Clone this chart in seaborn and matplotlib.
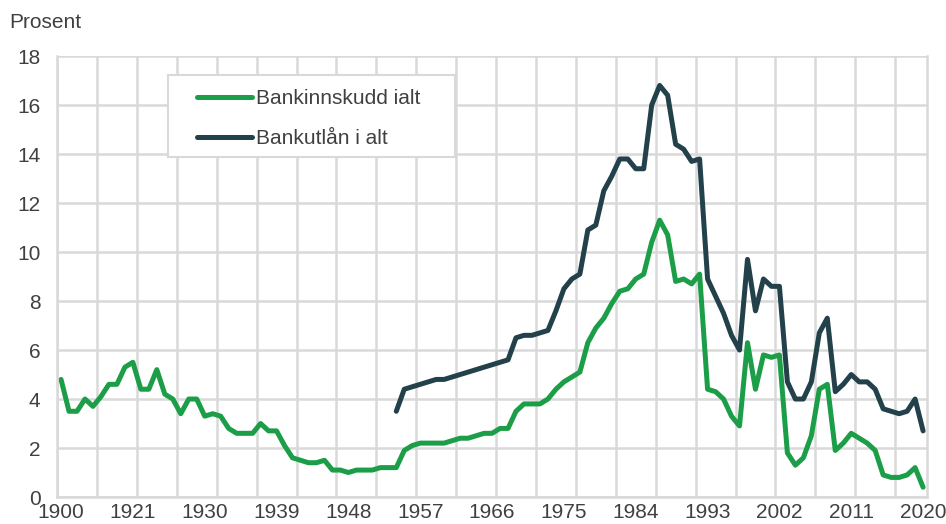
import numpy as np
import pandas as pd
import matplotlib.pyplot as plt
from matplotlib.patches import Rectangle
import seaborn as sns

# -----------------------------
# DATA
# -----------------------------

# category axis: 1900, then every year 1913-2020
years = [1900] + list(range(1913, 2021))

innskudd = [
    4.8, 3.5, 3.5, 4.0, 3.7, 4.1, 4.6, 4.6, 5.3, 5.5,
    4.4, 4.4, 5.2, 4.2, 4.0, 3.4, 4.0, 4.0, 3.3, 3.4,
    3.3, 2.8, 2.6, 2.6, 2.6, 3.0, 2.7, 2.7, 2.1, 1.6,
    1.5, 1.4, 1.4, 1.5, 1.1, 1.1, 1.0, 1.1, 1.1, 1.1,
    1.2, 1.2, 1.2, 1.9, 2.1, 2.2, 2.2, 2.2, 2.2, 2.3,
    2.4, 2.4, 2.5, 2.6, 2.6, 2.8, 2.8, 3.5, 3.8, 3.8,
    3.8, 4.0, 4.4, 4.7, 4.9, 5.1, 6.3, 6.9, 7.3, 7.9,
    8.4, 8.5, 8.9, 9.1, 10.4, 11.3, 10.7, 8.8, 8.9, 8.7,
    9.1, 4.4, 4.3, 4.0, 3.3, 2.9, 6.3, 4.4, 5.8, 5.7,
    5.8, 1.8, 1.3, 1.6, 2.5, 4.4, 4.6, 1.9, 2.2, 2.6,
    2.4, 2.2, 1.9, 0.9, 0.8, 0.8, 0.9, 1.2, 0.4,
]

# lending series starts in 1953
utlan = [np.nan] * 42 + [
    3.5, 4.4, 4.5, 4.6, 4.7, 4.8, 4.8, 4.9, 5.0, 5.1,
    5.2, 5.3, 5.4, 5.5, 5.6, 6.5, 6.6, 6.6, 6.7, 6.8,
    7.6, 8.5, 8.9, 9.1, 10.9, 11.1, 12.5, 13.1, 13.8, 13.8,
    13.4, 13.4, 16.0, 16.8, 16.4, 14.4, 14.2, 13.7, 13.8, 8.9,
    8.2, 7.5, 6.6, 6.0, 9.7, 7.6, 8.9, 8.6, 8.6, 4.7,
    4.0, 4.0, 4.7, 6.7, 7.3, 4.3, 4.6, 5.0, 4.7, 4.7,
    4.4, 3.6, 3.5, 3.4, 3.5, 4.0, 2.7,
]

series_names = ['Bankinnskudd ialt', 'Bankutlån i alt']
colors = ['#1c9d48', '#23414a']

pos = list(range(len(years)))
df = pd.concat([
    pd.DataFrame({'pos': pos, 'value': innskudd, 'serie': series_names[0]}),
    pd.DataFrame({'pos': pos, 'value': utlan, 'serie': series_names[1]}),
], ignore_index=True)

# -----------------------------
# STYLE
# -----------------------------

sns.set_theme(style='white')
plt.rcParams['font.family'] = ['Liberation Sans', 'DejaVu Sans']
text_color = '#404040'
grid_color = '#d9d9d9'
font_size = 15

fig = plt.figure(figsize=(9.46, 5.24), dpi=100)
ax = fig.add_axes([0.0603, 0.0515, 0.9197, 0.8415])

sns.lineplot(
    data=df, x='pos', y='value', hue='serie',
    palette=colors, linewidth=3.6, ax=ax, legend=False,
)

# -----------------------------
# AXES
# -----------------------------

ax.set_xlim(-0.5, len(years) - 0.5)
ax.set_ylim(0, 18)
ax.set_yticks(np.arange(0, 19, 2))

label_pos = pos[::9]
ax.set_xticks(label_pos)
ax.set_xticklabels([str(years[i]) for i in label_pos])
ax.set_xticks(np.arange(-0.5, len(years), 5), minor=True)

ax.grid(False)
ax.grid(True, which='minor', axis='x', color=grid_color, linewidth=1.8)
ax.grid(True, which='major', axis='y', color=grid_color, linewidth=1.8)
ax.set_axisbelow(True)

ax.tick_params(axis='both', which='both', length=0, labelsize=font_size,
               colors=text_color)
ax.tick_params(axis='x', pad=4)
ax.tick_params(axis='y', pad=12)

for side in ['left', 'right', 'bottom']:
    ax.spines[side].set_color(grid_color)
    ax.spines[side].set_linewidth(1.8)
ax.spines['top'].set_visible(False)

ax.set_xlabel('')
ax.set_ylabel('')

fig.text(0.010, 0.958, 'Prosent', fontsize=font_size, color=text_color,
         ha='left', va='center')

# -----------------------------
# LEGEND
# -----------------------------

ax.add_patch(Rectangle((0.1276, 0.771), 0.330, 0.186, transform=ax.transAxes,
                       facecolor='white', edgecolor=grid_color,
                       linewidth=1.5, zorder=4))

handles = [plt.Line2D([], [], color=c, linewidth=3.6) for c in colors]
leg = ax.legend(handles, series_names, loc='upper left',
                bbox_to_anchor=(0.161, 0.925), frameon=False,
                fontsize=font_size, handlelength=2.65, handletextpad=0.2,
                labelspacing=1.0, borderpad=0, borderaxespad=0)
leg.set_zorder(5)
for t in leg.get_texts():
    t.set_color(text_color)

plt.savefig('out.png', dpi=100)
plt.close()
